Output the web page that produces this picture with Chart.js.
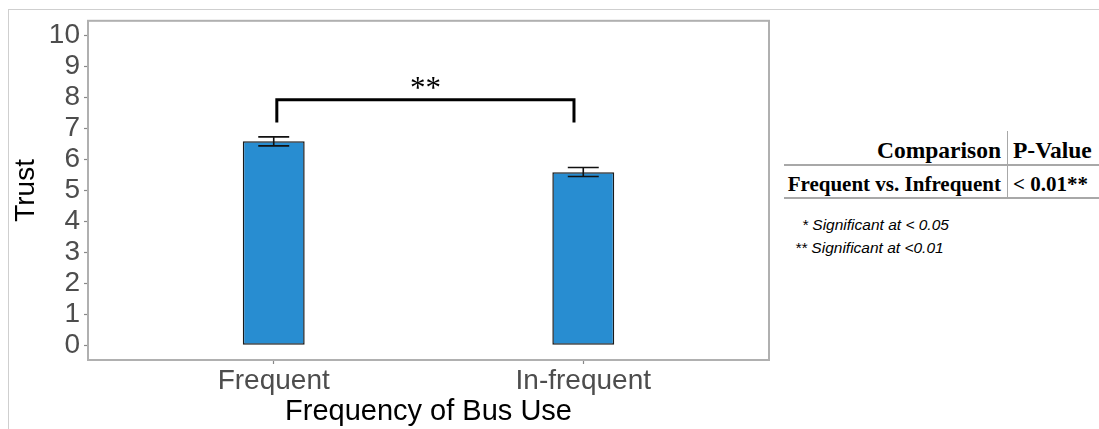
<!DOCTYPE html>
<html>
<head>
<meta charset="utf-8">
<script src="https://cdn.jsdelivr.net/npm/chart.js@4.4.1/dist/chart.umd.min.js"></script>
<style>
  html, body { margin: 0; padding: 0; background: #fff; }
  body { width: 1099px; height: 429px; position: relative; overflow: hidden; }
  #wrap { position: absolute; left: 0; top: 0; width: 775px; height: 429px; }
  .ln { position: absolute; background: #cfcfcf; }
  .tl { position: absolute; background: #a8a8a8; }
  .tx { position: absolute; font-family: "Liberation Serif", "Times New Roman", serif; font-weight: bold; font-size: 21px; color: #000; white-space: nowrap; line-height: 1; }
  .hd { font-size: 23.5px; }
  .fn { position: absolute; font-family: "Liberation Sans", Arial, sans-serif; font-style: italic; font-size: 15.5px; color: #000; white-space: nowrap; line-height: 1; }
</style>
</head>
<body>
<div class="ln" style="left:8px;top:9px;width:1091px;height:1px;"></div>
<div class="ln" style="left:8px;top:9px;width:1px;height:420px;"></div>
<div id="wrap"><canvas id="c" width="775" height="429"></canvas></div>

<div class="tl" style="left:1007px;top:131px;width:1px;height:67px;"></div>
<div class="tl" style="left:784px;top:164px;width:315px;height:1.5px;"></div>
<div class="tl" style="left:784px;top:197px;width:315px;height:1.5px;"></div>
<div class="tx hd" style="right:98px;top:139px;">Comparison</div>
<div class="tx hd" style="left:1013px;top:139px;">P-Value</div>
<div class="tx" style="right:98px;top:174px;">Frequent vs. Infrequent</div>
<div class="tx" style="left:1013px;top:174px;">&lt; 0.01**</div>
<div class="fn" style="left:802px;top:217px;">* Significant at &lt; 0.05</div>
<div class="fn" style="left:795px;top:240px;">** Significant at &lt;0.01</div>

<script>
// ---- data ----
const categories = ['Frequent', 'In-frequent'];
const trustMeans = [6.59, 5.59];
const errLow = [6.44, 5.45];
const errHigh = [6.73, 5.74];
const yTickValues = [0, 1, 2, 3, 4, 5, 6, 7, 8, 9, 10];
const bracketX = [1.01, 1.97];
const bracketY = [7.19, 7.93];
const sigLabel = '**';
const sigLabelY = 7.99;

const barData = categories.map((c, i) => ({ x: i + 1, y: trustMeans[i] }));

const errorBarPlugin = {
  id: 'errorBars',
  afterDatasetsDraw(chart) {
    const { ctx, scales: { x, y } } = chart;
    ctx.save();
    ctx.strokeStyle = '#111';
    ctx.lineWidth = 1.6;
    categories.forEach((c, i) => {
      const cx = x.getPixelForValue(i + 1);
      const x0 = x.getPixelForValue(i + 1 - 0.05);
      const x1 = x.getPixelForValue(i + 1 + 0.05);
      const yl = y.getPixelForValue(errLow[i]);
      const yh = y.getPixelForValue(errHigh[i]);
      ctx.beginPath();
      ctx.moveTo(cx, yl); ctx.lineTo(cx, yh);
      ctx.moveTo(x0, yl); ctx.lineTo(x1, yl);
      ctx.moveTo(x0, yh); ctx.lineTo(x1, yh);
      ctx.stroke();
    });
    // significance bracket
    ctx.strokeStyle = '#000';
    ctx.lineWidth = 3;
    ctx.lineCap = 'butt';
    ctx.lineJoin = 'miter';
    const bx0 = x.getPixelForValue(bracketX[0]);
    const bx1 = x.getPixelForValue(bracketX[1]);
    const by0 = y.getPixelForValue(bracketY[0]);
    const by1 = y.getPixelForValue(bracketY[1]);
    ctx.beginPath();
    ctx.moveTo(bx0, by0); ctx.lineTo(bx0, by1); ctx.lineTo(bx1, by1); ctx.lineTo(bx1, by0);
    ctx.stroke();
    ctx.fillStyle = '#000';
    ctx.font = '31px "Liberation Serif", "Times New Roman", serif';
    ctx.textAlign = 'center';
    ctx.textBaseline = 'alphabetic';
    ctx.fillText(sigLabel, (bx0 + bx1) / 2, y.getPixelForValue(sigLabelY));
    ctx.restore();
  }
};

const panelBorderPlugin = {
  id: 'panelBorder',
  afterDraw(chart) {
    const { ctx, chartArea: a } = chart;
    ctx.save();
    ctx.strokeStyle = '#b0b0b0';
    ctx.lineWidth = 2;
    ctx.strokeRect(a.left, a.top, a.right - a.left, a.bottom - a.top);
    ctx.restore();
  }
};

new Chart(document.getElementById('c'), {
  type: 'bar',
  data: {
    datasets: [{
      data: barData,
      backgroundColor: '#288dd1',
      borderColor: '#1a1a1a',
      borderWidth: 1.5,
      borderSkipped: false,
      categoryPercentage: 1,
      barPercentage: 0.2
    }]
  },
  options: {
    responsive: false,
    animation: false,
    events: [],
    layout: { padding: { left: 0, right: 6, top: 18, bottom: 0 } },
    plugins: { legend: { display: false }, tooltip: { enabled: false } },
    scales: {
      x: {
        type: 'linear',
        min: 0.4,
        max: 2.6,
        offset: false,
        afterBuildTicks: (s) => { s.ticks = categories.map((c, i) => ({ value: i + 1 })); },
        afterFit: (s) => { s.height = 69; },
        ticks: {
          callback: (v) => categories[Math.round(v) - 1] || '',
          color: '#4d4d4d',
          font: { family: '"Liberation Sans", Arial, sans-serif', size: 28 },
          padding: 0,
          maxRotation: 0,
          autoSkip: false
        },
        grid: { offset: false, drawOnChartArea: false, tickLength: 4, tickColor: '#888', tickWidth: 1.2 },
        border: { display: false },
        title: {
          display: true,
          text: 'Frequency of Bus Use',
          color: '#000',
          font: { family: '"Liberation Sans", Arial, sans-serif', size: 29 },
          padding: { top: 0, bottom: 0 }
        }
      },
      y: {
        min: -0.48,
        max: 10.48,
        afterBuildTicks: (s) => { s.ticks = yTickValues.map(v => ({ value: v })); },
        afterFit: (s) => { s.width = 88; },
        ticks: {
          color: '#4d4d4d',
          font: { family: '"Liberation Sans", Arial, sans-serif', size: 28 },
          padding: 4,
          autoSkip: false
        },
        grid: { drawOnChartArea: false, tickLength: 4, tickColor: '#888', tickWidth: 1.2 },
        border: { display: false },
        title: {
          display: true,
          text: 'Trust',
          color: '#000',
          font: { family: '"Liberation Sans", Arial, sans-serif', size: 28 },
          padding: { top: 9, bottom: 0 }
        }
      }
    }
  },
  plugins: [errorBarPlugin, panelBorderPlugin]
});
</script>
</body>
</html>
